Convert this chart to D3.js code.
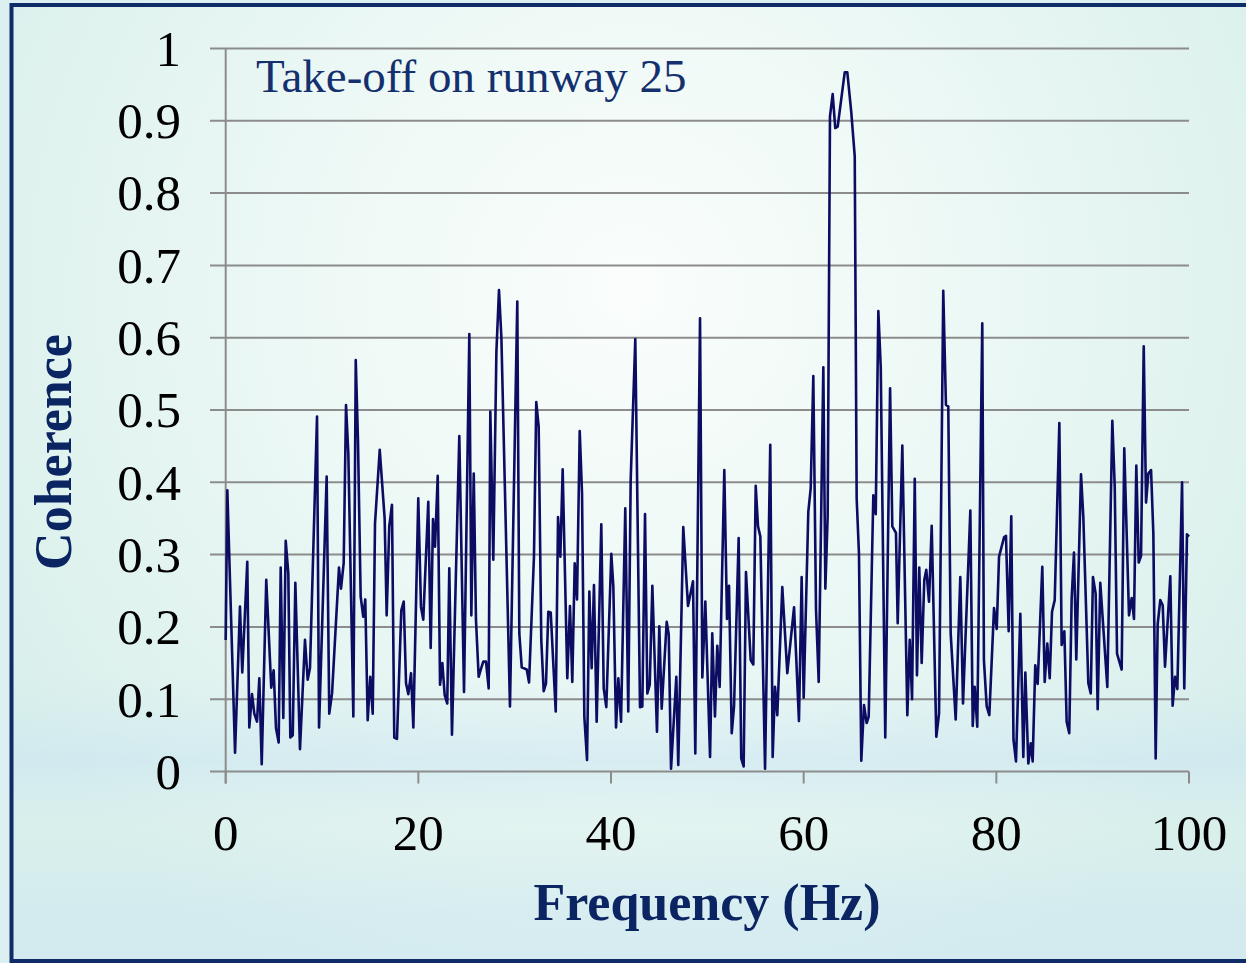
<!DOCTYPE html>
<html><head><meta charset="utf-8">
<script src="https://cdn.jsdelivr.net/npm/d3@7"></script>
<style>html,body{margin:0;padding:0;background:#dff1f3;}svg{display:block;}</style>
</head><body>
<svg id="chart" width="1246" height="963"></svg>
<script>
// Frequency (Hz) of each visible vertex of the curve
const freq = [
0,0.17,0.97,1.48,1.72,2.24,2.45,2.73,2.97,3.25,3.49,3.74,4.21,4.73,4.98,5.22,5.5,5.71,5.98,6.23,6.5,6.71,6.96,7.23,7.71,8.23,8.51,8.75,9.48,9.69,
10.48,10.75,11.04,11.76,11.97,12.25,12.49,12.73,13.25,13.5,13.73,14.01,14.28,14.49,14.74,15.01,15.26,15.5,15.99,16.5,16.71,16.98,17.26,17.5,17.78,18.23,18.48,18.72,18.96,19.24,19.48,
19.99,20.27,20.51,21.03,21.28,21.52,21.73,22.01,22.25,22.49,22.73,23.0,23.21,23.49,24.25,24.74,25.29,25.5,25.75,25.98,26.26,26.5,26.74,27.02,27.3,27.47,27.78,28.1,28.37,28.62,29.51,
30.27,30.48,30.73,31.25,31.49,32.0,32.24,32.49,32.76,33.01,33.25,33.49,33.74,34.26,34.5,34.74,34.98,35.46,35.74,35.98,36.23,36.47,36.75,36.99,37.23,37.51,37.75,37.99,38.23,38.51,38.99,39.24,39.51,
40.03,40.24,40.52,40.76,41.04,41.48,41.79,42.04,42.52,43.01,43.25,43.53,43.77,44.02,44.29,44.77,45.01,45.26,45.78,45.99,46.23,46.78,46.98,47.5,47.99,48.51,48.75,49.24,49.48,49.79,
50.28,50.51,50.79,51.03,51.28,51.76,52.04,52.25,52.53,52.77,53.25,53.52,53.77,54.01,54.5,54.77,55.02,55.26,55.5,55.99,56.53,56.78,57.02,57.26,57.78,58.3,59.0,59.51,59.79,
60.0,60.48,60.73,61.0,61.28,61.56,62.04,62.25,62.49,62.73,63.01,63.28,63.53,64.26,64.53,64.94,65.3,65.5,65.74,65.98,66.26,66.54,66.75,67.23,67.48,67.75,68.0,68.47,68.97,69.2,69.58,69.76,
70.24,70.76,71.01,71.25,71.53,71.76,72.0,72.25,72.52,72.73,73.01,73.29,73.77,74.05,74.49,74.77,75.01,75.26,75.78,76.26,76.54,77.3,77.55,77.75,78.02,78.54,78.71,79.0,79.27,79.76,
80.04,80.28,80.8,81.0,81.28,81.55,81.78,82.04,82.49,82.8,83.01,83.32,83.57,83.77,84.04,84.29,84.77,85.02,85.29,85.54,85.78,86.06,86.54,86.78,87.06,87.3,87.57,87.82,88.06,88.3,88.79,89.03,89.55,89.8,
90.03,90.31,90.52,90.79,91.52,92.04,92.29,92.53,93.01,93.28,93.77,94.05,94.29,94.53,94.78,95.02,95.3,95.54,95.78,96.06,96.3,96.54,96.75,97.02,97.27,97.51,98.06,98.3,98.55,98.79,99.28,99.51,99.79,100
];
// Coherence at each vertex
const coherence = [
0.182,0.389,0.026,0.228,0.137,0.29,0.061,0.107,0.08,0.069,0.129,0.01,0.265,0.116,0.14,0.06,0.04,0.282,0.074,0.319,0.274,0.047,0.05,0.261,0.031,0.182,0.127,0.143,0.491,0.061,
0.408,0.08,0.108,0.282,0.253,0.289,0.507,0.44,0.076,0.569,0.459,0.242,0.214,0.238,0.071,0.131,0.08,0.343,0.445,0.35,0.216,0.339,0.369,0.047,0.045,0.223,0.235,0.122,0.107,0.136,0.061,
0.378,0.228,0.21,0.373,0.171,0.349,0.311,0.409,0.12,0.15,0.106,0.094,0.281,0.051,0.464,0.11,0.605,0.216,0.412,0.21,0.131,0.142,0.152,0.152,0.115,0.498,0.293,0.58,0.666,0.6,0.09,
0.65,0.191,0.144,0.141,0.123,0.297,0.511,0.477,0.182,0.111,0.122,0.221,0.22,0.083,0.352,0.297,0.418,0.129,0.229,0.124,0.288,0.238,0.471,0.385,0.076,0.016,0.249,0.143,0.258,0.069,0.342,0.115,0.089,
0.301,0.256,0.061,0.129,0.069,0.364,0.083,0.403,0.598,0.089,0.09,0.356,0.108,0.12,0.257,0.055,0.201,0.087,0.207,0.19,0.004,0.131,0.009,0.338,0.229,0.263,0.025,0.627,0.13,0.235,
0.02,0.191,0.076,0.174,0.117,0.417,0.211,0.257,0.053,0.09,0.323,0.018,0.007,0.276,0.154,0.148,0.395,0.339,0.325,0.004,0.452,0.02,0.117,0.078,0.255,0.136,0.227,0.07,0.269,
0.102,0.359,0.392,0.547,0.224,0.124,0.559,0.253,0.353,0.906,0.937,0.89,0.892,0.967,0.967,0.912,0.851,0.378,0.301,0.015,0.092,0.067,0.076,0.382,0.356,0.637,0.559,0.047,0.53,0.339,0.33,0.205,
0.451,0.078,0.182,0.1,0.405,0.133,0.282,0.15,0.265,0.279,0.235,0.34,0.048,0.08,0.665,0.507,0.505,0.191,0.072,0.269,0.094,0.361,0.063,0.117,0.062,0.62,0.154,0.09,0.078,0.226,
0.197,0.297,0.324,0.326,0.194,0.353,0.044,0.014,0.218,0.02,0.137,0.011,0.039,0.014,0.147,0.121,0.283,0.124,0.177,0.129,0.221,0.237,0.482,0.175,0.194,0.069,0.053,0.24,0.303,0.155,0.411,0.352,0.122,0.108,
0.269,0.246,0.086,0.261,0.117,0.485,0.394,0.163,0.141,0.447,0.216,0.24,0.211,0.423,0.289,0.298,0.588,0.372,0.412,0.417,0.329,0.018,0.204,0.237,0.23,0.145,0.27,0.091,0.131,0.114,0.4,0.115,0.328,0.325
];
const xTicks = [0, 20, 40, 60, 80, 100];
const yTicks = [0, 0.1, 0.2, 0.3, 0.4, 0.5, 0.6, 0.7, 0.8, 0.9, 1];
const yTickLabels = ["0","0.1","0.2","0.3","0.4","0.5","0.6","0.7","0.8","0.9","1"];
const xTitle = "Frequency (Hz)";
const yTitle = "Coherence";
const annotation = "Take-off on runway 25";

const svg = d3.select("#chart");
const defs = svg.append("defs");
const rg = defs.append("radialGradient").attr("id","bg").attr("gradientUnits","userSpaceOnUse")
  .attr("cx",630).attr("cy",290).attr("r",760);
rg.append("stop").attr("offset","0").attr("stop-color","#fafdfc");
rg.append("stop").attr("offset","0.4").attr("stop-color","#eef9f6");
rg.append("stop").attr("offset","1").attr("stop-color","#d8efeb");
const lg = defs.append("linearGradient").attr("id","band").attr("x1",0).attr("y1",0).attr("x2",0).attr("y2",1);
lg.append("stop").attr("offset","0").attr("stop-color","#cfe7f3").attr("stop-opacity",0);
lg.append("stop").attr("offset","0.7").attr("stop-color","#cfe7f3").attr("stop-opacity",0);
lg.append("stop").attr("offset","0.79").attr("stop-color","#c9e4f2").attr("stop-opacity",0.5);
lg.append("stop").attr("offset","0.86").attr("stop-color","#d5ecf4").attr("stop-opacity",0.05);
lg.append("stop").attr("offset","0.95").attr("stop-color","#cce5f4").attr("stop-opacity",0.4);
lg.append("stop").attr("offset","1").attr("stop-color","#cce5f4").attr("stop-opacity",0.45);

svg.append("rect").attr("x",0).attr("y",0).attr("width",1246).attr("height",963).attr("fill","#dcf0f2");
svg.append("rect").attr("x",12).attr("y",5).attr("width",1240).attr("height",957).attr("fill","url(#bg)");
svg.append("rect").attr("x",12).attr("y",5).attr("width",1240).attr("height",957).attr("fill","url(#band)");
svg.append("rect").attr("x",11.5).attr("y",5).attr("width",1250).attr("height",956)
  .attr("fill","none").attr("stroke","#0f2b68").attr("stroke-width",4);

const x = d3.scaleLinear().domain([0,100]).range([225.7,1189]);
const y = d3.scaleLinear().domain([0,1]).range([771.5,48.5]);

const gridColor = "#8c8c8c";
svg.append("g").selectAll("line").data(yTicks).join("line")
  .attr("x1",210).attr("x2",x(100)).attr("y1",d=>y(d)).attr("y2",d=>y(d))
  .attr("stroke",gridColor).attr("stroke-width",2);
svg.append("line").attr("x1",x(0)).attr("x2",x(0)).attr("y1",y(1)).attr("y2",y(0)+12)
  .attr("stroke",gridColor).attr("stroke-width",2);
svg.append("g").selectAll("line").data(xTicks).join("line")
  .attr("x1",d=>x(d)).attr("x2",d=>x(d)).attr("y1",y(0)).attr("y2",y(0)+12)
  .attr("stroke",gridColor).attr("stroke-width",2);

const fontSerif = "'Liberation Serif','Times New Roman',Times,serif";
svg.append("g").selectAll("text").data(yTicks).join("text")
  .attr("x",181).attr("y",d=>y(d)).attr("dy","0.34em").attr("text-anchor","end")
  .attr("font-family",fontSerif).attr("font-size",51).attr("fill","#000")
  .text((d,i)=>yTickLabels[i]);
svg.append("g").selectAll("text").data(xTicks).join("text")
  .attr("x",d=>x(d)).attr("y",850).attr("text-anchor","middle")
  .attr("font-family",fontSerif).attr("font-size",51).attr("fill","#000")
  .text(d=>d);

svg.append("text").attr("x",707).attr("y",920).attr("text-anchor","middle")
  .attr("font-family",fontSerif).attr("font-weight","bold").attr("font-size",52)
  .attr("fill","#0b2562").text(xTitle);
svg.append("text").attr("transform","translate(71,452) rotate(-90)").attr("text-anchor","middle")
  .attr("font-family",fontSerif).attr("font-weight","bold").attr("font-size",52)
  .attr("fill","#0b2562").text(yTitle);
svg.append("text").attr("x",256).attr("y",92)
  .attr("font-family",fontSerif).attr("font-size",47).attr("fill","#14306e").text(annotation);

const pts = freq.map((f,i)=>[f, coherence[i]]);
const line = d3.line().x(d=>x(d[0])).y(d=>y(d[1]));
svg.append("path").datum(pts).attr("d",line).attr("fill","none")
  .attr("stroke","#0c0c63").attr("stroke-width",2.6).attr("stroke-linejoin","round");
</script>
</body></html>
